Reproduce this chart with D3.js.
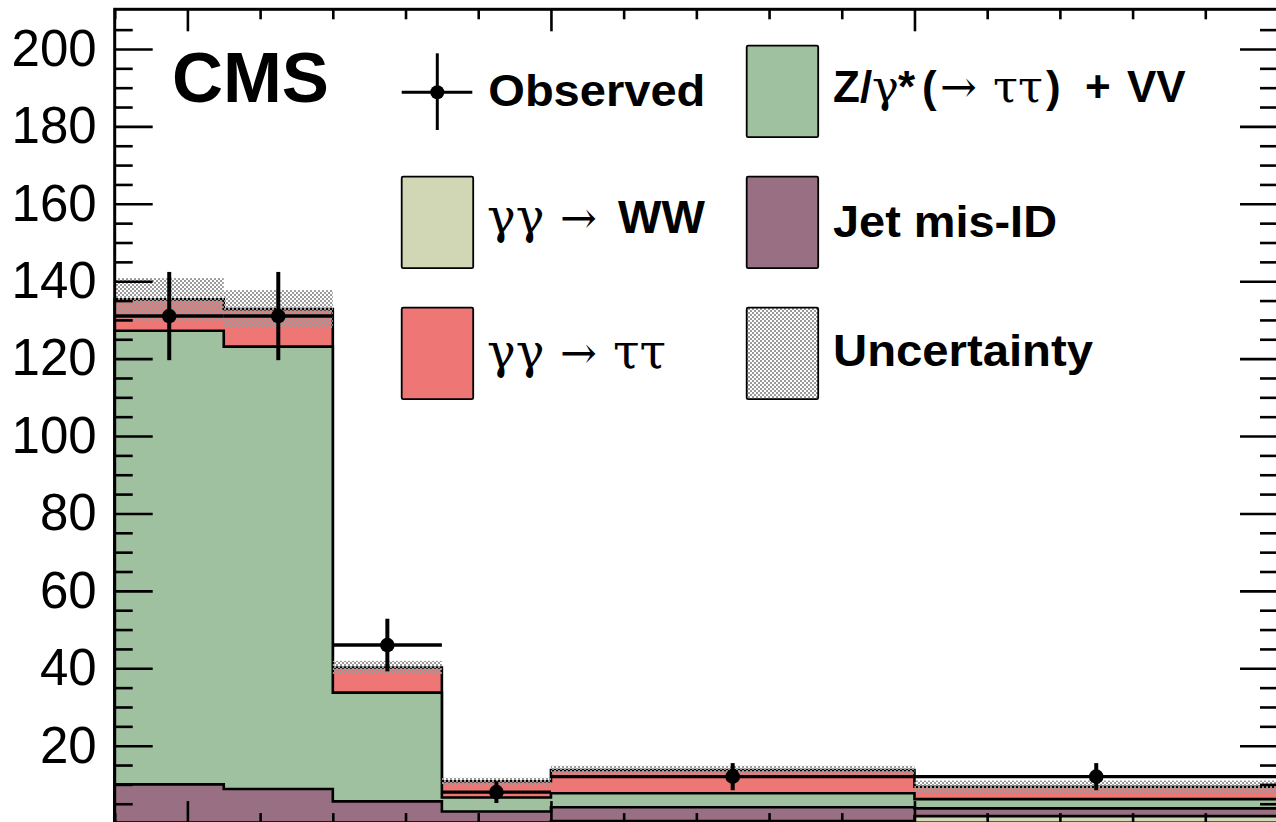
<!DOCTYPE html>
<html><head><meta charset="utf-8">
<script src="https://cdn.jsdelivr.net/npm/d3@7/dist/d3.min.js"></script>
<style>
html,body{margin:0;padding:0;background:#fff;overflow:hidden;}
svg{display:block;}
</style></head>
<body>
<svg id="chart" width="1276" height="822"></svg>
<script>
// ---- data ----
const binEdges   = [-1, 0.5, 2, 3.5, 5, 10, 15];
const wwVals     = [0.1, 0.1, 0.1, 0.1, 0.5, 1.8];   // gamma gamma -> WW
const jetVals    = [9.9, 8.7, 5.5, 2.9, 3.6, 2.0];   // Jet mis-ID
const zvvVals    = [117.2, 114.3, 28.1, 3.6, 3.6, 2.4]; // Z/gamma* (->tautau) + VV
const tautauVals = [8.1, 9.7, 6.5, 4.2, 6.0, 3.2];   // gamma gamma -> tautau
const uncVals    = [5.5, 4.9, 1.7, 0.9, 1.1, 1.6];   // total uncertainty
const obsVals    = [131, 131, 46, 8, 12, 12];
const obsErr     = [11.4, 11.4, 6.8, 2.8, 3.5, 3.5];
const yMajorTicks = [20, 40, 60, 80, 100, 120, 140, 160, 180, 200];
const xMajorTicks = [0, 5, 10, 15];

const colors = {ww:"#D1D7B5", jet:"#997083", zvv:"#9FC19F", tautau:"#EE7674"};
const SANS = "'Liberation Sans', Arial, Helvetica, sans-serif";
const SERIF = "'DejaVu Serif', 'Liberation Serif', serif";

const svg = d3.select("#chart");
const x = d3.scaleLinear().domain([-1, 15]).range([114.7, 1278]);
const y = d3.scaleLinear().domain([0, 210.25]).range([823.1, 9.3]);

// hatch pattern
const defs = svg.append("defs");
const pat = defs.append("pattern").attr("id","hatch").attr("patternUnits","userSpaceOnUse")
  .attr("width",4).attr("height",4);
pat.append("rect").attr("x",0).attr("y",0).attr("width",2).attr("height",2).attr("fill","#9a9a9a");
pat.append("rect").attr("x",2).attr("y",2).attr("width",2).attr("height",2).attr("fill","#9a9a9a");

// cumulative stacks
const nb = obsVals.length;
const layers = [wwVals, jetVals, zvvVals, tautauVals];
const layerColors = [colors.ww, colors.jet, colors.zvv, colors.tautau];
const cum = [];
let run = new Array(nb).fill(0);
layers.forEach(l => { run = run.map((v,i)=>v + l[i]); cum.push(run.slice()); });

function stepPath(vals){
  let p = `M${x(binEdges[0])},${y(0)}`;
  vals.forEach((v,i)=>{ p += `V${y(v)}H${x(binEdges[i+1])}`; });
  p += `V${y(0)}Z`;
  return p;
}
const gStack = svg.append("g");
for (let k = cum.length-1; k >= 0; k--) {
  gStack.append("path").attr("d", stepPath(cum[k]))
    .attr("fill", layerColors[k]).attr("stroke","#000").attr("stroke-width",2.6)
    .attr("stroke-linejoin","miter");
}
const total = cum[cum.length-1];

// uncertainty band
svg.append("g").selectAll("rect").data(total).join("rect")
  .attr("x",(d,i)=>x(binEdges[i])).attr("width",(d,i)=>x(binEdges[i+1])-x(binEdges[i]))
  .attr("y",(d,i)=>y(d+uncVals[i])).attr("height",(d,i)=>y(d-uncVals[i])-y(d+uncVals[i]))
  .attr("fill","url(#hatch)");

// axes (ticks inside)
const yMinor = d3.range(5, 210, 5).filter(v => v % 20 !== 0);
const xMinor = d3.range(-1, 16, 1).filter(v => !xMajorTicks.includes(v));
function styleAxis(g){ g.select(".domain").remove(); g.selectAll("line").attr("stroke","#000").attr("stroke-width",2.6); }
svg.append("g").attr("transform",`translate(${x(-1)},0)`)
  .call(d3.axisLeft(y).tickValues(yMajorTicks).tickSize(-38).tickPadding(18).tickFormat(d3.format("d")))
  .call(styleAxis)
  .call(g=>g.selectAll("text").attr("font-family",SANS).attr("font-size",51).attr("fill","#000"));
svg.append("g").attr("transform",`translate(${x(-1)},0)`)
  .call(d3.axisLeft(y).tickValues(yMinor).tickSize(-18).tickFormat("")).call(styleAxis);
svg.append("g").attr("transform",`translate(${x(15)},0)`)
  .call(d3.axisRight(y).tickValues(yMajorTicks).tickSize(-38).tickFormat("")).call(styleAxis);
svg.append("g").attr("transform",`translate(${x(15)},0)`)
  .call(d3.axisRight(y).tickValues(yMinor).tickSize(-18).tickFormat("")).call(styleAxis);
svg.append("g").attr("transform",`translate(0,${y(210.25)})`)
  .call(d3.axisTop(x).tickValues(xMajorTicks).tickSize(-22).tickFormat("")).call(styleAxis);
svg.append("g").attr("transform",`translate(0,${y(210.25)})`)
  .call(d3.axisTop(x).tickValues(xMinor).tickSize(-10).tickFormat("")).call(styleAxis);
svg.append("g").attr("transform",`translate(0,${y(0)})`)
  .call(d3.axisBottom(x).tickValues(xMajorTicks).tickSize(-22).tickFormat("")).call(styleAxis);
svg.append("g").attr("transform",`translate(0,${y(0)})`)
  .call(d3.axisBottom(x).tickValues(xMinor).tickSize(-10).tickFormat("")).call(styleAxis);

// observed data
const gObs = svg.append("g");
obsVals.forEach((v,i)=>{
  const xc = x((binEdges[i]+binEdges[i+1])/2);
  gObs.append("line").attr("x1",x(binEdges[i])).attr("x2",x(binEdges[i+1]))
    .attr("y1",y(v)).attr("y2",y(v)).attr("stroke","#000").attr("stroke-width",3.4);
  gObs.append("line").attr("x1",xc).attr("x2",xc)
    .attr("y1",y(v+obsErr[i])).attr("y2",y(v-obsErr[i])).attr("stroke","#000").attr("stroke-width",4);
  gObs.append("circle").attr("cx",xc).attr("cy",y(v)).attr("r",7.3).attr("fill","#000");
});

// frame
svg.append("rect").attr("x",x(-1)).attr("y",y(210.25)).attr("width",x(15)-x(-1)).attr("height",y(0)-y(210.25))
  .attr("fill","none").attr("stroke","#000").attr("stroke-width",3);

// CMS label
svg.append("text").attr("x",172).attr("y",101.5).attr("font-family",SANS).attr("font-weight","bold")
  .attr("font-size",71).attr("textLength",157).attr("lengthAdjust","spacingAndGlyphs").text("CMS");

// legend
const leg = svg.append("g");
leg.append("line").attr("x1",401.7).attr("x2",472.3).attr("y1",92.3).attr("y2",92.3).attr("stroke","#000").attr("stroke-width",3);
leg.append("line").attr("x1",437.3).attr("x2",437.3).attr("y1",53.3).attr("y2",130).attr("stroke","#000").attr("stroke-width",3);
leg.append("circle").attr("cx",437.3).attr("cy",92.3).attr("r",7).attr("fill","#000");
const boxes = [
  {x:746.7, y:45.7, fill:colors.zvv},
  {x:401.7, y:176.7, fill:colors.ww},
  {x:746.7, y:176.7, fill:colors.jet},
  {x:401.7, y:307.7, fill:colors.tautau},
  {x:746.7, y:307.7, fill:"url(#hatch)"}
];
boxes.forEach(b=>{
  leg.append("rect").attr("x",b.x).attr("y",b.y).attr("width",71.5).attr("height",91.5).attr("rx",1.5)
    .attr("fill",b.fill).attr("stroke","#000").attr("stroke-width",1.8);
});
function piece(x0, yb, txt, serif, w, size){
  const t = leg.append("text").attr("x",x0).attr("y",yb).attr("font-size",size||44).attr("fill","#000")
    .attr("font-family", serif ? SERIF : SANS).attr("font-weight", serif ? "normal" : "bold").text(txt);
  if (w) t.attr("textLength",w).attr("lengthAdjust","spacingAndGlyphs");
}
// mixed label in one text element, tspans placed at given x positions
function mixed(yb, parts){
  const t = leg.append("text").attr("y",yb).attr("fill","#000");
  parts.forEach(p=>{
    t.append("tspan").attr("x",p.x).attr("font-size",p.size||44)
      .attr("font-family", p.serif ? SERIF : SANS).attr("font-weight", p.serif ? "normal" : "bold")
      .text(p.t);
  });
}
piece(488.3, 106, "Observed", false, 217);
mixed(102, [
  {x:833, t:"Z/"}, {x:872, t:"γ", serif:true, size:45}, {x:898, t:"*"},
  {x:922, t:"("}, {x:940, t:"→", serif:true}, {x:993, t:"ττ", serif:true, size:45},
  {x:1046, t:")"}, {x:1085, t:"+"}, {x:1127, t:"VV"}
]);
mixed(233, [
  {x:487, t:"γγ", serif:true, size:48}, {x:560, t:"→", serif:true}, {x:618, t:"WW", size:46}
]);
piece(833, 237, "Jet mis-ID", false, 224);
mixed(368, [
  {x:487, t:"γγ", serif:true, size:48}, {x:560, t:"→", serif:true}, {x:613, t:"ττ", serif:true, size:48}
]);
piece(833, 366, "Uncertainty", false, 260);
</script>
</body></html>
